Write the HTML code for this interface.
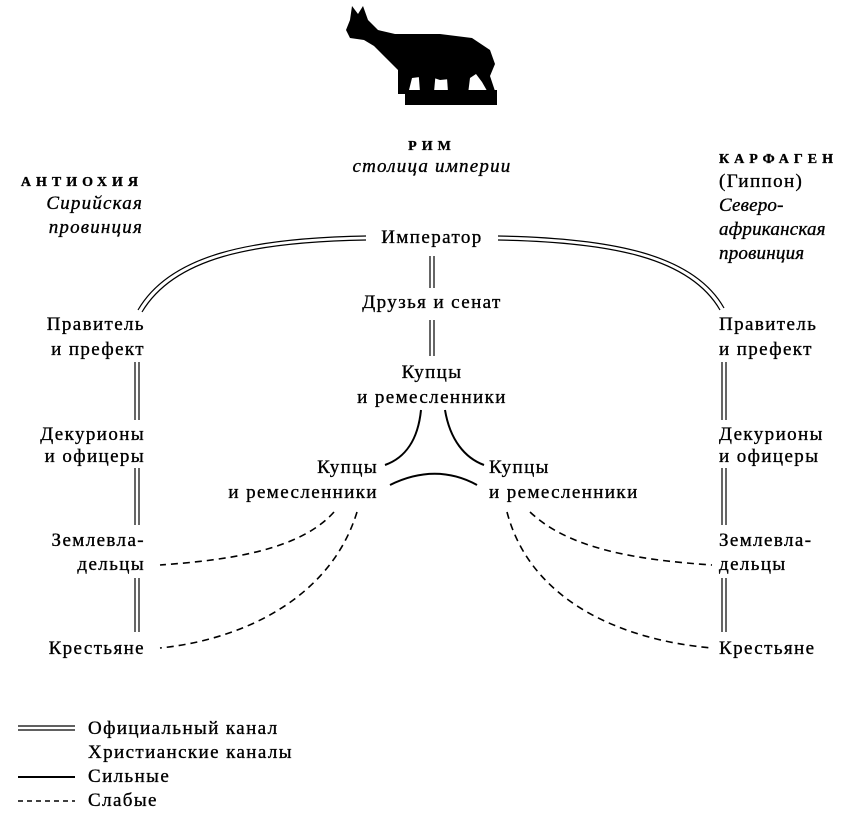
<!DOCTYPE html>
<html><head><meta charset="utf-8"><style>
body{margin:0;background:#fff}
svg{display:block}
text{font-family:"Liberation Serif",serif;font-size:19px;letter-spacing:1.4px;fill:#000;stroke:#000;stroke-width:0.35}
.it{font-style:italic;letter-spacing:1.2px}
.sc{font-size:14px;font-weight:bold;letter-spacing:5px}
.nr{letter-spacing:0.2px}
</style></head><body>
<svg width="841" height="825" viewBox="0 0 841 825">
<g fill="#000">
<path d="M352,6 L358,14 L363,6 L368,20 L378,30 L395,34 L440,34 L472,38 L490,50 L495,64 L490,76 L496,94 L490,96 L482,82 L476,74 L470,78 L468,94 L460,94 L460,78 L440,80 L428,76 L412,78 L408,94 L398,94 L398,70 L386,58 L374,46 L364,40 L350,38 L346,30 L350,20 Z"/>
<rect x="405" y="90" width="92" height="15"/>
<path d="M418,66 L430,56 L436,70 L434,92 L420,92 Z"/>
<path d="M446,64 L458,60 L464,76 L462,92 L448,92 Z"/>
</g>
<text x="432" y="150" class="sc" text-anchor="middle">РИМ</text>
<text x="432" y="172" class="it" text-anchor="middle">столица империи</text>
<text x="143" y="186" class="sc" text-anchor="end">АНТИОХИЯ</text>
<text x="143" y="209" class="it" text-anchor="end">Сирийская</text>
<text x="143" y="233" class="it" text-anchor="end">провинция</text>
<text x="719" y="163" class="sc">КАРФАГЕН</text>
<text x="719" y="187">(Гиппон)</text>
<text x="719" y="211" class="it nr">Северо-</text>
<text x="719" y="235" class="it nr">африканская</text>
<text x="719" y="259" class="it nr">провинция</text>
<text x="432" y="243" text-anchor="middle">Император</text>
<text x="432" y="308" text-anchor="middle">Друзья и сенат</text>
<text x="432" y="378" text-anchor="middle">Купцы</text>
<text x="432" y="403" text-anchor="middle">и ремесленники</text>
<text x="378" y="473" text-anchor="end">Купцы</text>
<text x="378" y="498" text-anchor="end">и ремесленники</text>
<text x="489" y="473">Купцы</text>
<text x="489" y="498">и ремесленники</text>
<g text-anchor="end">
<text x="145" y="330">Правитель</text><text x="145" y="355">и префект</text>
<text x="145" y="440">Декурионы</text><text x="145" y="462">и офицеры</text>
<text x="145" y="546">Землевла-</text><text x="145" y="570">дельцы</text>
<text x="145" y="654">Крестьяне</text>
</g>
<text x="719" y="330">Правитель</text><text x="719" y="355">и префект</text>
<text x="719" y="440">Декурионы</text><text x="719" y="462">и офицеры</text>
<text x="719" y="546">Землевла-</text><text x="719" y="570">дельцы</text>
<text x="719" y="654">Крестьяне</text>
<g fill="none" stroke="#000" stroke-width="1.2">
<path d="M135,362V420M139,362V420M135,468V525M139,468V525M135,578V632M139,578V632"/>
<path d="M722,362V420M726,362V420M722,468V525M726,468V525M722,578V632M726,578V632"/>
<path d="M430,256V288M434,256V288M430,320V356M434,320V356"/>
<path d="M366,236 C250,238 170,255 138,310"/>
<path d="M366,240 C252,242 174,258 142,312"/>
<path d="M498,236 C614,238 694,255 724,308"/>
<path d="M498,240 C612,242 690,258 720,310"/>
</g>
<g fill="none" stroke="#000" stroke-width="2">
<path d="M421,410 C418,440 405,458 385,465"/>
<path d="M445,410 C450,440 465,458 484,465"/>
<path d="M390,485 C420,470 450,470 477,485"/>
<path d="M18,777H75"/>
</g>
<g fill="none" stroke="#000" stroke-width="1.6" stroke-dasharray="7,5">
<path d="M334,512 C300,550 230,560 160,565"/>
<path d="M357,512 C330,600 240,640 160,648"/>
<path d="M530,512 C570,550 640,560 712,565"/>
<path d="M507,512 C530,600 620,640 712,648"/>
<path d="M18,801H75" stroke-dasharray="5,4"/>
</g>
<path d="M18,726H75M18,730H75" stroke="#000" stroke-width="1.2"/>
<g style="letter-spacing:1.8px">
<text x="88" y="734">Официальный канал</text>
<text x="88" y="758">Христианские каналы</text>
<text x="88" y="782">Сильные</text>
<text x="88" y="806">Слабые</text>
</g>
</svg>
</body></html>
